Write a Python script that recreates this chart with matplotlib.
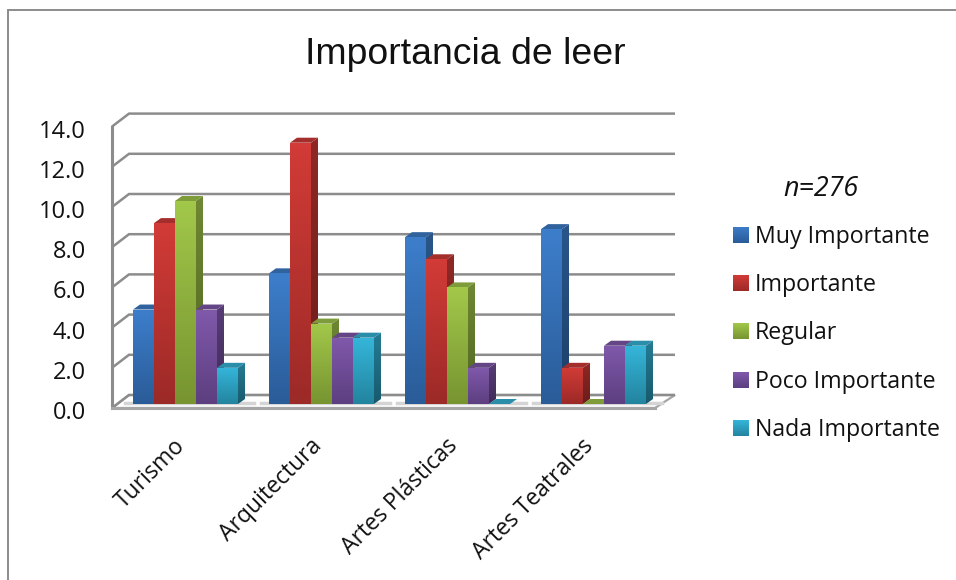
import numpy as np
import matplotlib
matplotlib.use("Agg")
import matplotlib.pyplot as plt
from matplotlib.lines import Line2D
from matplotlib.patches import Polygon

categories = ["Turismo", "Arquitectura", "Artes Plásticas", "Artes Teatrales"]
series = ["Muy Importante", "Importante", "Regular", "Poco Importante", "Nada Importante"]
muy = [4.7, 6.5, 8.3, 8.7]
importante = [9.0, 13.0, 7.2, 1.8]
regular = [10.1, 4.0, 5.8, 0.0]
poco = [4.7, 3.3, 1.8, 2.9]
nada = [1.8, 3.3, 0.0, 2.9]
yticks = [0, 2, 4, 6, 8, 10, 12, 14]

# top colour, bottom colour of each series
cols = [("#3d7ecb", "#2a5c98"), ("#d23b37", "#9c2a27"), ("#a2c84a", "#779431"),
        ("#8059ab", "#5d3f80"), ("#35b6da", "#23849f")]
W, H = 956, 580
fig = plt.figure(figsize=(W / 100, H / 100), dpi=100)
plt.rcParams["font.family"] = ["Open Sans", "DejaVu Sans"]

# axes box: x 0 at px 185.5, one group = 136 px; y 0 at px 404, one unit = 20.1 px
left, right, bottom, top = 100, 700, 420, 100
ax = fig.add_axes([left / W, 1 - bottom / H, (right - left) / W, (bottom - top) / H])
ax.axis("off")
px = 1 / 136
py = 1 / 20.1


def shade(col1, col2, k=1.0):
    c1 = np.array(matplotlib.colors.to_rgb(col1)) * k
    c2 = np.array(matplotlib.colors.to_rgb(col2)) * k
    t = np.linspace(0, 1, 64)[:, None]
    return (c1 * (1 - t) + c2 * t)[:, None, :]


# walls and grid
grey = "#8c8c8c"
gx0, gx1, gx2 = -73.5 * px, -56.5 * px, 489.5 * px
back = 9 * py
front = -4 * py
ax.add_patch(Polygon([(gx0, front), (gx0 + 17 * px, back), (gx2, back), (gx2 - 20 * px, front)],
                     fc="white", ec="#a6a6a6", lw=1.6, zorder=1))
for v in yticks:
    ax.plot([gx0, gx1, gx2], [v + front, v + back, v + back], color=grey, lw=1.8, zorder=1,
            solid_capstyle="butt", solid_joinstyle="miter", clip_on=False)
ax.plot([gx0, gx0], [front, 14 + front], color=grey, lw=2.2, zorder=1.1)
ax.plot([gx0, gx2 - 20 * px], [front, front], color="#a6a6a6", lw=2.2, zorder=1.1)

# bars
vals = [muy, importante, regular, poco, nada]
bw = 21 / 136
dx, dy = 7 * px, 5 * py
for i in range(4):
    ax.plot([i - 2.5 * bw - 8 * px, i + 2.5 * bw + 16 * px], [1 * py, 1 * py], color="#d4d4d4", lw=2.5, zorder=1.5)
for s in range(5):
    xs = np.arange(4) + (s - 2) * bw
    bars = ax.bar(xs, vals[s], width=bw, color=cols[s][0], zorder=3 + s * 0.1, label=series[s])
    for b in bars:
        x0, x1, h = b.get_x(), b.get_x() + bw, b.get_height()
        z = 2.9 + s * 0.1
        if h > 0:
            im = ax.imshow(shade(*cols[s]), extent=(x0, x1, 0, h), aspect="auto",
                           zorder=3 + s * 0.1 + 0.01)
            im.set_clip_path(b)
        side = Polygon([(x1, 0), (x1 + dx, dy), (x1 + dx, h + dy), (x1, h)], fc="none", ec="none", zorder=z)
        ax.add_patch(side)
        im2 = ax.imshow(shade(*cols[s], k=0.68), extent=(x1, x1 + dx, 0, h + dy), aspect="auto", zorder=z)
        im2.set_clip_path(side)
        ax.add_patch(Polygon([(x0, h), (x0 + dx, h + dy), (x1 + dx, h + dy), (x1, h)],
                             fc=np.array(matplotlib.colors.to_rgb(cols[s][0])) * 0.78, ec="none", zorder=z + 0.05))

ax.set_xlim((left - 185.5) / 136, (right - 185.5) / 136)
ax.set_ylim((404 - bottom) / 20.1, (404 - top) / 20.1)

# y tick labels
for v in yticks:
    ax.text(gx0 - 26 * px, v + front - 5 * py, f"{v:.1f}", ha="right", va="center", fontsize=17,
            color="#111111", clip_on=False)

# x tick labels
for i, c in enumerate(categories):
    ax.text(i - 12 * px, -30 * py, c, rotation=45, rotation_mode="anchor", ha="right", va="top",
            fontsize=16.5, color="#111111", clip_on=False)

# title, note, legend
fig.text(465.5 / W, 1 - 55 / H, "Importancia de leer", ha="center", va="center", fontsize=26.9,
         family=["Liberation Sans"], color="#111111")
fig.text(821 / W, 1 - 189 / H, "n=276", ha="center", va="center", fontsize=19.4, style="italic", color="#111111")
for i, name in enumerate(series):
    yc = 235 + 48.2 * i
    fig.text(755 / W, 1 - (yc + 2) / H, name, ha="left", va="center", fontsize=16.7, color="#111111")
    lax = fig.add_axes([733 / W, 1 - (yc + 8) / H, 16 / W, 16 / H])
    lax.imshow(shade(*cols[i]), aspect="auto")
    lax.axis("off")

# chart frame, open on the right and at the bottom
fig.add_artist(Line2D([7.5 / W, 7.5 / W, 1], [0, 1 - 9.5 / H, 1 - 9.5 / H], transform=fig.transFigure,
                      color="#8c8c8c", lw=1.4, solid_joinstyle="miter"))

fig.savefig("out.png", dpi=100)
